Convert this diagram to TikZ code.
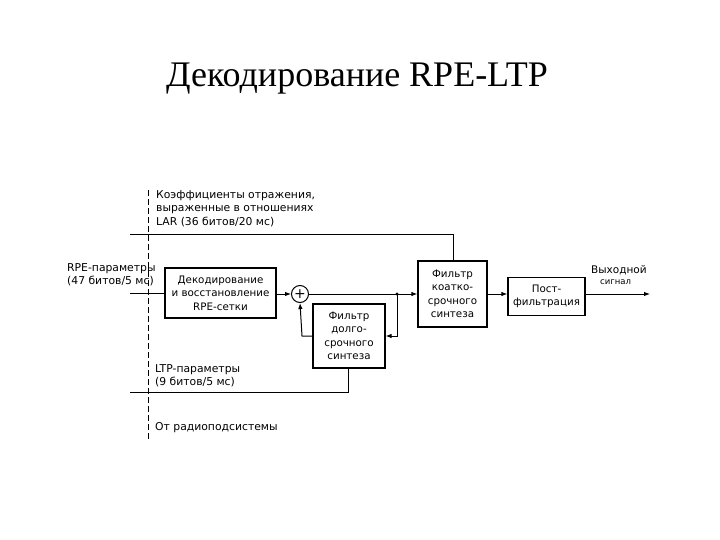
\documentclass[tikz,border=0pt]{standalone}
\usepackage{fontspec}
\setmainfont{Liberation Serif}
\setsansfont{DejaVu Sans}
\usetikzlibrary{arrows.meta}
\begin{document}
\begin{tikzpicture}[x=1pt,y=-1pt,
  blk/.style={draw,line width=1.2pt,align=center,font=\sffamily\fontsize{10.3}{13.5}\selectfont,inner sep=0pt},
  lbl/.style={align=left,anchor=north west,font=\sffamily\fontsize{10.8}{13.8}\selectfont,inner sep=0pt},
  ln/.style={line width=1pt},
  arr/.style={line width=1pt,-{Latex[length=6pt,width=4.5pt]}}]
\useasboundingbox (0,0) rectangle (720,540);
\node[font=\fontsize{36}{40}\selectfont,anchor=base] (title) at (357,87) {Декодирование RPE-LTP};
% dashed vertical line
\coordinate (dtop) at (148,190);
\coordinate (dbot) at (148,440);
\draw[line width=0.7pt,dash pattern=on 6pt off 3pt] (dtop) -- (dbot);
% blocks
\node[blk,minimum width=111pt,minimum height=50pt] (dec) at (220.5,293) {Декодирование\\и восстановление\\RPE-сетки};
\node[draw,circle,line width=1pt,minimum size=17pt,inner sep=0pt,font=\sffamily\fontsize{14}{14}\selectfont] (sum) at (300,294) {+};
\node[blk,minimum width=72pt,minimum height=64pt] (ltf) at (349,336) {Фильтр\\долго-\\срочного\\синтеза};
\node[blk,minimum width=69pt,minimum height=66pt] (stf) at (452.5,294) {Фильтр\\коатко-\\срочного\\синтеза};
\node[blk,minimum width=77pt,minimum height=38pt] (post) at (546.5,296.5) {Пост-\\фильтрация};
% labels
\node[lbl] (lar) at (156,190) {Коэффициенты отражения,\\выраженные в отношениях\\LAR (36 битов/20 мс)};
\node[lbl] (rpe) at (67,263) {RPE-параметры\\(47 битов/5 мс)};
\node[lbl] (ltp) at (155,364) {LTP-параметры\\(9 битов/5 мс)};
\node[lbl] (radio) at (155,422) {От радиоподсистемы};
\node[lbl,font=\sffamily\fontsize{10.5}{13}\selectfont] (out1) at (591,265) {Выходной};
\node[lbl,font=\sffamily\fontsize{8.5}{11}\selectfont] (out2) at (600,280) {сигнал};
% coordinates
\coordinate (larL) at (130,234);
\coordinate (larR) at (453,234);
\coordinate (rpeL) at (130,293);
\coordinate (ltpL) at (130,392);
\coordinate (ltpR) at (348,392);
\coordinate (jn) at (397,294);
\coordinate (fbR) at (397,336);
\coordinate (fbL) at (302,336);
\coordinate (outE) at (650,294);
% connectors
\draw[ln] (larL) -- (larR) -- (larR |- stf.north);
\draw[ln] (rpeL) -- (dec.west |- rpeL);
\draw[arr] (dec.east |- sum) -- (sum.west);
\draw[ln] (sum.east) -- (jn);
\draw[arr] (jn) -- (stf.west |- jn);
\fill (jn) circle (1.6pt);
\draw[arr] (jn) -- (fbR) -- (ltf.east |- fbR);
\draw[arr] (ltf.west |- fbL) -- (fbL) -- (sum.south);
\draw[ln] (ltpL) -- (ltpR) -- (ltpR |- ltf.south);
\draw[arr] (stf.east |- jn) -- (post.west |- jn);
\draw[arr] (post.east |- jn) -- (outE);
\end{tikzpicture}
\end{document}
